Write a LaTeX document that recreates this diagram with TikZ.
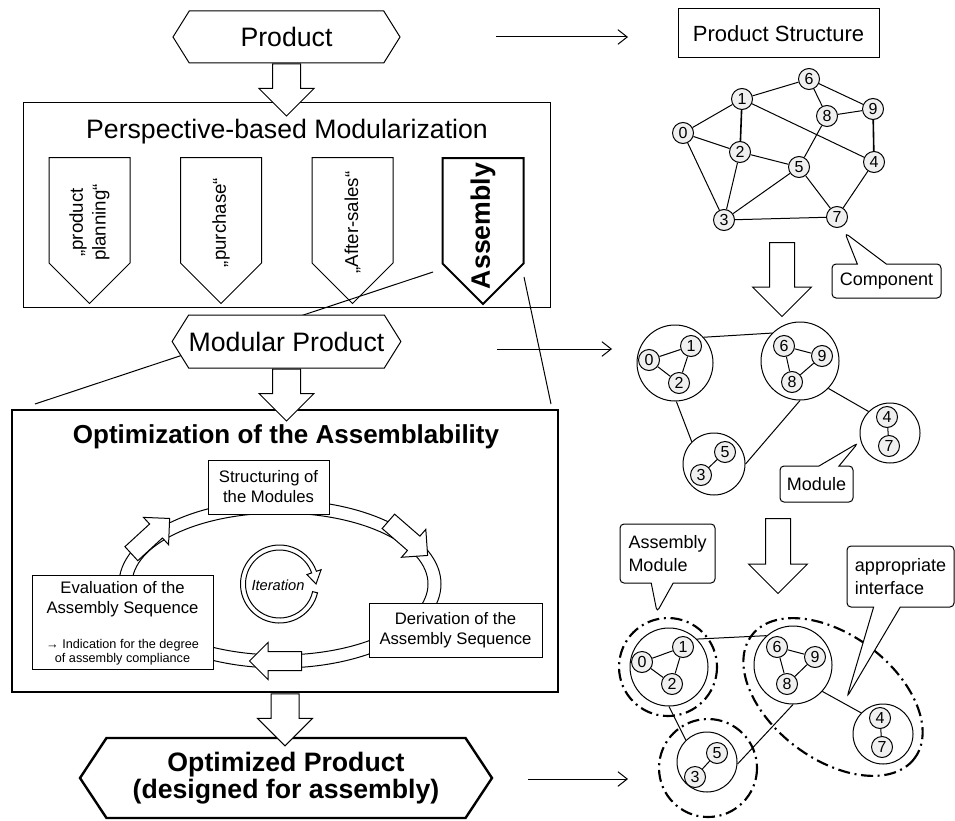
\documentclass[tikz,border=0pt]{standalone}
\usepackage{fontspec}
\setmainfont{Liberation Sans}
\usetikzlibrary{arrows.meta,positioning,calc,shapes.symbols,shapes.arrows,shapes.callouts}

\newcommand{\setfs}[2]{\fontsize{#1}{#2}\selectfont}

\begin{document}
\begin{tikzpicture}[x=0.75pt, y=-0.75pt, line width=0.75pt,
  hexa/.style={signal, signal to=east and west, signal pointer angle=116, draw, fill=white, inner sep=0pt, align=center},
  pent/.style={signal, signal to=west, signal pointer angle=90, draw, fill=white, rotate=90, minimum width=109.5pt, minimum height=60.75pt, inner sep=0pt},
  penttxt/.style={rotate=90, align=center, inner sep=0pt, font=\setfs{14}{17}},
  panel/.style={draw, fill=white, inner sep=0pt},
  stepbox/.style={draw, fill=white, inner sep=2pt, align=center, font=\setfs{12.5}{15}},
  barrow/.style={single arrow, draw, fill=white, inner xsep=0pt, inner ysep=10.125pt, minimum width=40.5pt, single arrow head extend=10.125pt, minimum height=39pt},
  rarrow/.style={barrow, inner ysep=9pt, minimum width=43.5pt, single arrow head extend=12.75pt, minimum height=55.5pt},
  carrow/.style={barrow, inner ysep=6.75pt, minimum width=27pt, single arrow head extend=6.75pt, minimum height=39pt},
  thinarr/.style={-{Straight Barb[length=7pt, width=11pt]}},
  gnode/.style={circle, draw, fill=gray!12, inner sep=0pt, minimum size=15.75pt, font=\setfs{12}{12}},
  modc/.style={circle, draw, inner sep=0pt},
  thickedge/.style={line width=1.2pt},
  asmring/.style={line width=1.6pt, dash pattern=on 9pt off 3.5pt on 1.5pt off 3.5pt},
  note/.style={rectangle callout, draw, fill=white, rounded corners=3pt, align=left, inner sep=0pt, font=\setfs{13.5}{17}}
]
\useasboundingbox (0,0) rectangle (955,820);

% left column
\node[hexa, minimum width=170.25pt, minimum height=39pt, font=\setfs{20}{22}] (prod) at (286.5,37) {Product};
\node[panel, minimum width=395.25pt, minimum height=153pt] (persp) at (286.5,205) {};
\node[font=\setfs{20}{22}] (pertitle) at (287,132) {Perspective-based Modularization};
\node[pent, anchor=east] (pplan) at (89.5,157) {};
\node[pent, anchor=east] (ppur) at (221,157) {};
\node[pent, anchor=east] (pafter) at (352.5,157) {};
\node[pent, anchor=east, line width=1.5pt] (pasm) at (483,157) {};
\node[penttxt] (pplant) at ($(pplan.east)!0.445!(pplan.west)$) {„product\\planning“};
\node[penttxt] (ppurt) at ($(ppur.east)!0.445!(ppur.west)$) {„purchase“};
\node[penttxt] (paftert) at ($(pafter.east)!0.445!(pafter.west)$) {„After-sales“};
\node[penttxt, font=\setfs{20}{21}\bfseries] (pasmt) at ($(pasm.east)!0.465!(pasm.west)$) {Assembly};
\node[barrow, rotate=-90, anchor=tail] (a1) at (prod.south) {};

% zoom lines
\coordinate (z1) at (433,272);
\coordinate (z2) at (35,404);
\coordinate (z3) at (524,277);
\coordinate (z4) at (551,404);
\draw (z1) -- (z2);
\draw (z3) -- (z4);

\node[hexa, minimum width=170.25pt, minimum height=39.75pt, font=\setfs{20}{22}] (modprod) at (286.5,341.5) {Modular Product};
\node[panel, line width=2pt, minimum width=409.5pt, minimum height=211.5pt] (opt) at (285,551) {};
\node[barrow, rotate=-90, anchor=tail] (a2) at (modprod.south) {};
\node[font=\setfs{19.5}{21}\bfseries] (opttitle) at (286,437) {Optimization of the Assemblability};

% loop
\coordinate (loopc) at (280,584);
\draw (loopc) ellipse [x radius=161, y radius=84];
\draw (loopc) ellipse [x radius=148, y radius=71];
\node[stepbox, minimum width=90.75pt, minimum height=40.5pt] (struct) at (268.5,487) {Structuring of\\the Modules};
\node[stepbox, minimum width=135.75pt, minimum height=70.5pt] (eval) at (122.5,622) {};
\node[stepbox, draw=none, fill=none, below=2.5pt of eval.north] (evalt) {Evaluation of the\\Assembly Sequence};
\node[align=center, inner sep=2pt, font=\setfs{9.5}{10.5}, above=1pt of eval.south] (evals) {→ Indication for the degree\\of assembly compliance};
\node[stepbox, minimum width=129.75pt, minimum height=40.5pt] (deriv) at (455.5,630) {Derivation of the\\Assembly Sequence};
\node[carrow, rotate=42.6, anchor=tail] (c1) at (131,554) {};
\node[carrow, rotate=-41, anchor=tail] (c2) at (388,521) {};
\node[carrow, rotate=180, anchor=tail] (c3) at (302,661) {};

% iteration
\node[font=\setfs{11}{12}\itshape] (iter) at (278,585) {Iteration};
\draw[shift={(279.5,584)}] (13:39) arc[start angle=13, end angle=341, radius=39] -- (341:44) -- (0:36.5) -- (341:29) -- (341:34) arc[start angle=341, end angle=13, radius=34] -- cycle;

\node[hexa, line width=1.8pt, signal pointer angle=113, minimum width=309pt, minimum height=60pt, font=\setfs{20}{20.5}\bfseries] (optprod) at (286,778) {Optimized Product\\(designed for assembly)};
\node[barrow, rotate=-90, anchor=tail] (a3) at (opt.south) {};

% right column
\node[panel, minimum width=150.75pt, minimum height=36.75pt, font=\setfs{16.5}{18}] (pstruct) at (778.5,33.5) {Product Structure};
\coordinate (h1s) at (496,37);
\coordinate (h1e) at (628,37);
\coordinate (h2s) at (497,349);
\coordinate (h2e) at (612,349);
\coordinate (h3s) at (528,779);
\coordinate (h3e) at (628,779);
\draw[thinarr] (h1s) -- (h1e);
\draw[thinarr] (h2s) -- (h2e);
\draw[thinarr] (h3s) -- (h3e);

% product structure
\foreach \n/\x/\y in {0/683/133, 1/742/99, 2/740/152, 3/724/220, 4/874/162, 5/799/167, 6/809/79, 7/837/217, 8/827/116, 9/873/109}
  \node[gnode] (s\n) at (\x,\y) {\n};
\foreach \a/\b in {0/1,0/2,0/3,1/6,1/4,2/5,2/3,3/5,3/7,5/8,5/7,6/8,6/9,8/9,4/7}
  \draw (s\a) -- (s\b);
\draw[thickedge] (s1) -- (s2);
\draw[thickedge] (s9) -- (s4);
\node[note, minimum width=81.75pt, minimum height=25.5pt, callout pointer width=21.75pt, callout absolute pointer={(845,233)}] (compnote) at (886.5,281) {Component};

\coordinate (r1) at (782,242);
\node[rarrow, rotate=-90, anchor=tail] (ra1) at (r1) {};

% modules
\node[modc, minimum size=57pt] (ma) at (675,363) {};
\node[modc, minimum size=58.5pt] (mb) at (800,361) {};
\node[modc, minimum size=46.5pt] (mc) at (714,464) {};
\node[modc, minimum size=45pt] (md) at (890,433) {};
\foreach \n/\x/\y in {0/649/360, 1/691/346, 2/679/383, 6/784/346, 9/822/356, 8/792/382, 5/725/452, 3/701/475, 4/887/417, 7/889/446}
  \node[gnode] (m\n) at (\x,\y) {\n};
\foreach \a/\b in {0/1,0/2,1/2,6/9,6/8,8/9,3/5,4/7}
  \draw (m\a) -- (m\b);
\draw (ma.42) -- (mb.135);
\draw (ma.-88) -- (mc.135);
\draw (mb.-90) -- (mc.0);
\draw (mb.-44) -- (md.135);
\node[note, minimum width=54.75pt, minimum height=27pt, callout pointer width=15pt, callout absolute pointer={(858,443)}] (modnote) at (816.5,484) {Module};

\coordinate (r2) at (778,518);
\node[rarrow, rotate=-90, anchor=tail, minimum height=56.25pt] (ra2) at (r2) {};

% assembly modules
\draw[asmring] (668,667) circle[radius=49];
\draw[asmring] (708,768) circle[radius=49];
\draw[asmring, rotate around={-37:(833,697)}] (833,697) ellipse [x radius=102, y radius=62];
\node[modc, minimum size=58.5pt] (aa) at (669,667) {};
\node[modc, minimum size=58.5pt] (ab) at (793,665) {};
\node[modc, minimum size=45pt] (ac) at (707,762) {};
\node[modc, minimum size=45pt] (ad) at (883,734) {};
\foreach \n/\x/\y in {0/642/662, 1/683/647, 2/672/684, 6/777/647, 9/815/657, 8/787/684, 5/717/753, 3/695/777, 4/880/718, 7/882/747}
  \node[gnode] (a\n) at (\x,\y) {\n};
\foreach \a/\b in {0/1,0/2,1/2,6/9,6/8,8/9,3/5,4/7}
  \draw (a\a) -- (a\b);
\draw (aa.45) -- (ab.132);
\draw (aa.-90) -- (ac.134);
\draw (ab.-90) -- (ac.-4);
\draw (ab.-42) -- (ad.136);
\node[note, minimum width=71.25pt, minimum height=44.25pt, callout pointer width=16.5pt, callout absolute pointer={(657,612)}] (asmnote) at (667.5,553.5) {Assembly\\Module};
\node[note, minimum width=80.25pt, minimum height=45.75pt, callout pointer width=20pt, callout absolute pointer={(847,697)}] (ifnote) at (900.5,576.5) {appropriate\\interface};
\end{tikzpicture}
\end{document}
